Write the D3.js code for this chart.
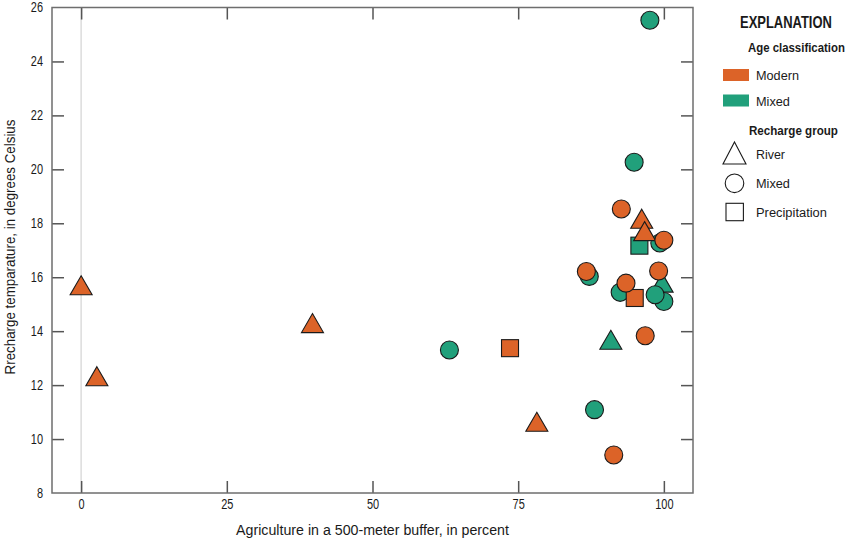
<!DOCTYPE html>
<html><head><meta charset="utf-8">
<script src="https://cdn.jsdelivr.net/npm/d3@7"></script>
<style>
html,body{margin:0;padding:0;background:#fff;}
svg{display:block;font-family:'Liberation Sans Narrow','Liberation Sans',Arial,sans-serif;}
</style></head>
<body>
<svg id="chart" width="852" height="541"></svg>
<script>
// ---- Data ----
const xTicks = [0, 25, 50, 75, 100];
const yTicks = [8, 10, 12, 14, 16, 18, 20, 22, 24, 26];

// Mixed age (green) — drawn first
const mixedRiver  = [[90.9, 13.68], [99.7, 15.8]];
const mixedCircle = [[63.2, 13.30], [88.1, 11.09], [87.2, 16.03], [92.5, 15.44], [100, 15.1], [98.5, 15.35], [99.3, 17.27], [94.9, 20.26], [97.6, 25.53]];
const mixedSquare = [[95.8, 17.17]];

// Modern age (orange)
const modernRiver  = [[0, 15.7], [2.7, 12.33], [39.7, 14.3], [78.2, 10.64], [96.2, 18.17], [96.7, 17.71]];
const modernCircle = [[91.4, 9.41], [96.8, 13.83], [86.7, 16.21], [93.5, 15.78], [99.1, 16.23], [92.7, 18.53], [100, 17.37]];
const modernSquare = [[73.6, 13.37], [95.0, 15.23]];

const ageLabels = ["Modern", "Mixed"];
const groupLabels = ["River", "Mixed", "Precipitation"];

// ---- Styles ----
const colModern = "#DC6328";
const colMixed = "#21A07B";
const stroke = "#1a1a1a";

const svg = d3.select("#chart");
const L = 52, R = 693, T = 7.5, B = 493;
const x = d3.scaleLinear().domain([-5, 105]).range([L, R]);
const y = d3.scaleLinear().domain([8, 26]).range([B, T]);

// condensed look for tick labels
function fit(sel, w) {
  sel.attr("textLength", w).attr("lengthAdjust", "spacingAndGlyphs");
  return sel;
}
// condensed text placed at (px,py), horizontally scaled to width w
function ctext(parent, px, py, str, size, w, opts = {}) {
  const g = parent.append("g");
  const t = g.append("text").attr("x", 0).attr("y", 0).style("font-size", size + "px")
    .attr("fill", "#1a1a1a").text(str);
  if (opts.bold) t.style("font-weight", "bold");
  if (opts.anchor) t.attr("text-anchor", opts.anchor);
  const s = w / t.node().getComputedTextLength();
  g.attr("transform", `translate(${px},${py})${opts.rotate ? " rotate(" + opts.rotate + ")" : ""} scale(${s},1)`);
  return g;
}

// zero reference line
svg.append("line").attr("x1", x(0)).attr("x2", x(0)).attr("y1", T).attr("y2", B)
  .attr("stroke", "#dcdcdc").attr("stroke-width", 1.5);

// axes with inward ticks
const tickLen = 12;
const axL = svg.append("g").attr("transform", `translate(${L},0)`)
  .call(d3.axisLeft(y).tickValues(yTicks).tickSize(-tickLen).tickPadding(9).tickFormat(d3.format("d")));
const axR = svg.append("g").attr("transform", `translate(${R},0)`)
  .call(d3.axisRight(y).tickValues(yTicks).tickSize(-tickLen).tickFormat(""));
const axB = svg.append("g").attr("transform", `translate(0,${B})`)
  .call(d3.axisBottom(x).tickValues(xTicks).tickSize(-tickLen).tickPadding(6).tickFormat(d3.format("d")));
const axT = svg.append("g").attr("transform", `translate(0,${T})`)
  .call(d3.axisTop(x).tickValues(xTicks).tickSize(-tickLen).tickFormat(""));
[axL, axR, axB, axT].forEach(g => {
  g.select(".domain").remove();
  g.selectAll(".tick line").attr("stroke", "#555").attr("stroke-width", 1.5);
  g.selectAll(".tick text").attr("fill", "#1a1a1a").style("font-size", "14px").style("font-family", "inherit")
    .each(function () { const t = d3.select(this).text(); if (t) fit(d3.select(this), t.length * 6.1); });
});
axL.selectAll(".tick").filter(d => d === 8 || d === 26).select("line").remove();
axR.selectAll(".tick").filter(d => d === 8 || d === 26).select("line").remove();

// frame
svg.append("rect").attr("x", L).attr("y", T).attr("width", R - L).attr("height", B - T)
  .attr("fill", "none").attr("stroke", "#6e6e6e").attr("stroke-width", 1.5);

// axis titles
ctext(svg, x(50), 535, "Agriculture in a 500-meter buffer, in percent", 14.5, 273, { anchor: "middle" });
ctext(svg, 15, 247, "Rrecharge temparature, in degrees Celsius", 14.5, 255, { anchor: "middle", rotate: -90 });

// marker path generators (centered on 0,0)
function triPath(w, h) { return `M0,${-h/2}L${w/2},${h/2}L${-w/2},${h/2}Z`; }
const TRI = triPath(22, 19), SQ = 17, CR = 9;

const plot = svg.append("g");
function drawSet(data, shape, color) {
  const g = plot.append("g");
  if (shape === "tri") {
    g.selectAll("path").data(data).join("path")
      .attr("d", TRI).attr("transform", d => `translate(${x(d[0])},${y(d[1])})`)
      .attr("fill", color).attr("stroke", stroke).attr("stroke-width", 1.1).attr("stroke-linejoin", "miter");
  } else if (shape === "circle") {
    g.selectAll("circle").data(data).join("circle")
      .attr("cx", d => x(d[0])).attr("cy", d => y(d[1])).attr("r", CR)
      .attr("fill", color).attr("stroke", stroke).attr("stroke-width", 1.1);
  } else {
    g.selectAll("rect").data(data).join("rect")
      .attr("x", d => x(d[0]) - SQ/2).attr("y", d => y(d[1]) - SQ/2).attr("width", SQ).attr("height", SQ)
      .attr("fill", color).attr("stroke", stroke).attr("stroke-width", 1.1);
  }
}
drawSet(mixedRiver, "tri", colMixed);
drawSet(mixedSquare, "sq", colMixed);
drawSet(mixedCircle, "circle", colMixed);
drawSet(modernSquare, "sq", colModern);
drawSet(modernRiver, "tri", colModern);
drawSet(modernCircle, "circle", colModern);

// ---- Legend ----
const lg = svg.append("g");
ctext(lg, 740, 28, "EXPLANATION", 16, 92, { bold: true });
ctext(lg, 748, 52, "Age classification", 13.5, 97, { bold: true });
const ageCols = [colModern, colMixed];
const ageW = [43, 34];
ageLabels.forEach((t, i) => {
  lg.append("rect").attr("x", 723).attr("y", 69 + i * 25.5).attr("width", 26).attr("height", 12).attr("fill", ageCols[i]);
  ctext(lg, 756, 80 + i * 25.5, t, 13.5, ageW[i]);
});
ctext(lg, 749, 135, "Recharge group", 13.5, 89, { bold: true });
const gy = [153, 183.3, 212];
lg.append("path").attr("d", triPath(23, 22)).attr("transform", `translate(734.5,${gy[0]})`)
  .attr("fill", "none").attr("stroke", "#1a1a1a").attr("stroke-width", 1.1);
lg.append("circle").attr("cx", 734.5).attr("cy", gy[1]).attr("r", 9.3)
  .attr("fill", "none").attr("stroke", "#1a1a1a").attr("stroke-width", 1.1);
lg.append("rect").attr("x", 726).attr("y", gy[2] - 8.7).attr("width", 17.4).attr("height", 17.4)
  .attr("fill", "none").attr("stroke", "#1a1a1a").attr("stroke-width", 1.1);
const grpW = [29, 34, 71];
groupLabels.forEach((t, i) => {
  ctext(lg, 756, [159, 188, 216.7][i], t, 13.5, grpW[i]);
});
</script>
</body></html>
